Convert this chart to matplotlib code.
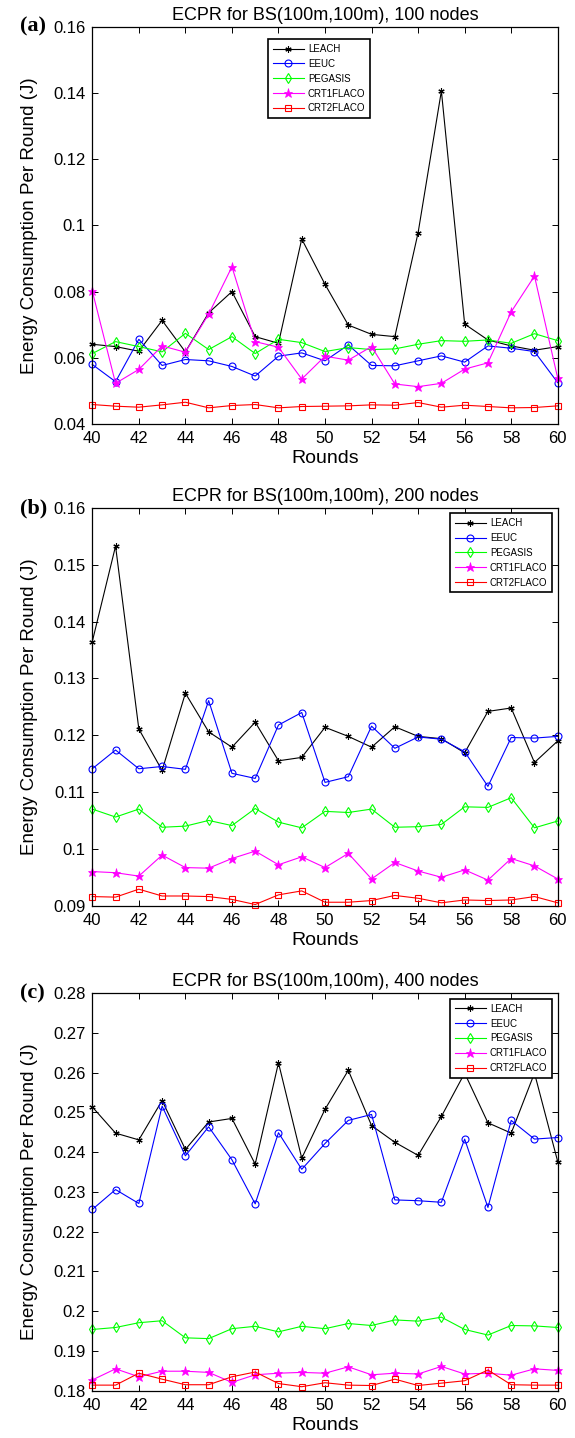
import matplotlib
matplotlib.use('Agg')
import matplotlib.pyplot as plt

plt.rcParams['font.family'] = ['Liberation Sans', 'DejaVu Sans']

rounds = [40, 41, 42, 43, 44, 45, 46, 47, 48, 49, 50,
          51, 52, 53, 54, 55, 56, 57, 58, 59, 60]
series_names = ['LEACH', 'EEUC', 'PEGASIS', 'CRT1FLACO', 'CRT2FLACO']

# (a) 100 nodes
leach_100 = [0.0641, 0.0634, 0.0620, 0.0713, 0.0618, 0.0736, 0.0800, 0.0664, 0.0644, 0.0959, 0.0822,
             0.0699, 0.0671, 0.0664, 0.0978, 0.1406, 0.0702, 0.0654, 0.0636, 0.0623, 0.0634]
eeuc_100 = [0.0580, 0.0528, 0.0656, 0.0577, 0.0595, 0.0591, 0.0574, 0.0545, 0.0605, 0.0615, 0.0591,
            0.0639, 0.0577, 0.0576, 0.0591, 0.0606, 0.0587, 0.0636, 0.0629, 0.0619, 0.0525]
pegasis_100 = [0.0613, 0.0649, 0.0634, 0.0618, 0.0674, 0.0625, 0.0664, 0.0613, 0.0656, 0.0646, 0.0619,
               0.0631, 0.0625, 0.0627, 0.0641, 0.0652, 0.0650, 0.0654, 0.0644, 0.0673, 0.0652]
crt1_100 = [0.0802, 0.0523, 0.0565, 0.0636, 0.0617, 0.0732, 0.0875, 0.0649, 0.0632, 0.0536, 0.0605,
            0.0593, 0.0634, 0.0521, 0.0513, 0.0523, 0.0566, 0.0585, 0.0739, 0.0847, 0.0538]
crt2_100 = [0.0459, 0.0454, 0.0451, 0.0458, 0.0466, 0.0449, 0.0456, 0.0459, 0.0449, 0.0453, 0.0454,
            0.0455, 0.0458, 0.0457, 0.0465, 0.0451, 0.0457, 0.0453, 0.0449, 0.0450, 0.0455]

# (b) 200 nodes
leach_200 = [0.1365, 0.1533, 0.1211, 0.1138, 0.1274, 0.1206, 0.1179, 0.1223, 0.1155, 0.1161, 0.1214,
             0.1198, 0.1179, 0.1215, 0.1198, 0.1194, 0.1169, 0.1242, 0.1248, 0.1152, 0.1190]
eeuc_200 = [0.1141, 0.1174, 0.1141, 0.1145, 0.1140, 0.1261, 0.1133, 0.1124, 0.1218, 0.1240, 0.1117,
            0.1127, 0.1216, 0.1177, 0.1197, 0.1193, 0.1171, 0.1110, 0.1196, 0.1195, 0.1198]
pegasis_200 = [0.1070, 0.1056, 0.1070, 0.1038, 0.1040, 0.1050, 0.1041, 0.1071, 0.1047, 0.1037, 0.1066,
               0.1064, 0.1070, 0.1038, 0.1039, 0.1043, 0.1074, 0.1073, 0.1090, 0.1037, 0.1049]
crt1_200 = [0.0960, 0.0958, 0.0952, 0.0989, 0.0967, 0.0966, 0.0983, 0.0996, 0.0972, 0.0986, 0.0967,
            0.0992, 0.0947, 0.0976, 0.0961, 0.0950, 0.0963, 0.0945, 0.0983, 0.0970, 0.0947]
crt2_200 = [0.0916, 0.0915, 0.0929, 0.0917, 0.0917, 0.0916, 0.0911, 0.0902, 0.0919, 0.0926, 0.0906,
            0.0906, 0.0909, 0.0918, 0.0913, 0.0905, 0.0910, 0.0909, 0.0910, 0.0916, 0.0905]

# (c) 400 nodes
leach_400 = [0.2514, 0.2448, 0.2431, 0.2530, 0.2407, 0.2476, 0.2485, 0.2370, 0.2625, 0.2385, 0.2508,
             0.2606, 0.2467, 0.2425, 0.2392, 0.2490, 0.2599, 0.2474, 0.2448, 0.2599, 0.2376]
eeuc_400 = [0.2256, 0.2306, 0.2271, 0.2516, 0.2391, 0.2464, 0.2381, 0.2270, 0.2449, 0.2357, 0.2422,
            0.2480, 0.2495, 0.2280, 0.2278, 0.2274, 0.2433, 0.2261, 0.2480, 0.2433, 0.2437]
pegasis_400 = [0.1954, 0.1959, 0.1971, 0.1976, 0.1933, 0.1931, 0.1956, 0.1962, 0.1948, 0.1962, 0.1956,
               0.1969, 0.1964, 0.1978, 0.1975, 0.1985, 0.1954, 0.1940, 0.1964, 0.1963, 0.1959]
crt1_400 = [0.1827, 0.1855, 0.1835, 0.1849, 0.1849, 0.1846, 0.1821, 0.1840, 0.1844, 0.1846, 0.1844,
            0.1860, 0.1840, 0.1844, 0.1842, 0.1861, 0.1842, 0.1844, 0.1839, 0.1855, 0.1851]
crt2_400 = [0.1814, 0.1814, 0.1844, 0.1829, 0.1815, 0.1815, 0.1835, 0.1847, 0.1818, 0.1810, 0.1820,
            0.1814, 0.1813, 0.1829, 0.1813, 0.1819, 0.1825, 0.1852, 0.1815, 0.1814, 0.1814]

xticks = [40, 42, 44, 46, 48, 50, 52, 54, 56, 58, 60]
yticks_a = [0.04, 0.06, 0.08, 0.1, 0.12, 0.14, 0.16]
ylabels_a = ['0.04', '0.06', '0.08', '0.1', '0.12', '0.14', '0.16']
yticks_b = [0.09, 0.1, 0.11, 0.12, 0.13, 0.14, 0.15, 0.16]
ylabels_b = ['0.09', '0.1', '0.11', '0.12', '0.13', '0.14', '0.15', '0.16']
yticks_c = [0.18, 0.19, 0.2, 0.21, 0.22, 0.23, 0.24, 0.25, 0.26, 0.27, 0.28]
ylabels_c = ['0.18', '0.19', '0.2', '0.21', '0.22', '0.23', '0.24', '0.25', '0.26', '0.27', '0.28']

# marker / colour for each protocol, MATLAB-like
styles = [
    dict(color='k', marker=(6, 2, 0), markersize=4.5, markeredgewidth=0.8),
    dict(color='b', marker='o', markersize=5, markerfacecolor='none', markeredgewidth=0.8),
    dict(color='#00ff00', marker='d', markersize=5, markerfacecolor='none', markeredgewidth=0.8),
    dict(color='#ff00ff', marker='*', markersize=6.5, markeredgewidth=0.5),
    dict(color='r', marker='s', markersize=4, markerfacecolor='none', markeredgewidth=0.8),
]

panels = [
    ('(a)', 'ECPR for BS(100m,100m), 100 nodes',
     [leach_100, eeuc_100, pegasis_100, crt1_100, crt2_100],
     yticks_a, ylabels_a, [0.9814, 0.7051], ('upper left', (0.3775, 0.969))),
    ('(b)', 'ECPR for BS(100m,100m), 200 nodes',
     [leach_200, eeuc_200, pegasis_200, crt1_200, crt2_200],
     yticks_b, ylabels_b, [0.6467, 0.3702], ('upper right', (0.988, 0.987))),
    ('(c)', 'ECPR for BS(100m,100m), 400 nodes',
     [leach_400, eeuc_400, pegasis_400, crt1_400, crt2_400],
     yticks_c, ylabels_c, [0.3093, 0.0329], ('upper right', (0.988, 0.986))),
]

fig = plt.figure(figsize=(5.75, 14.38), dpi=100)

for tag, title, data, yt, yl, (top, bottom), (loc, anchor) in panels:
    ax = fig.add_axes([0.1605, bottom, 0.8095, top - bottom])
    for name, vals, st in zip(series_names, data, styles):
        ax.plot(rounds, vals, linewidth=0.8, label=name, clip_on=False, **st)
    ax.set_xlim(40, 60)
    ax.set_ylim(yt[0], yt[-1])
    ax.set_xticks(xticks)
    ax.set_yticks(yt)
    ax.set_yticklabels(yl)
    ax.tick_params(direction='in', top=True, right=True, length=4, width=0.7,
                   labelsize=12, pad=5)
    for sp in ax.spines.values():
        sp.set_linewidth(0.9)
    ax.set_title(title, fontsize=13, pad=5)
    ax.set_xlabel('Rounds', fontsize=14, labelpad=3)
    ax.set_ylabel('Energy Consumption Per Round (J)', fontsize=13.5, labelpad=11)
    leg = ax.legend(loc=loc, bbox_to_anchor=anchor, fontsize=7, frameon=True,
                    fancybox=False, edgecolor='k', framealpha=1,
                    handlelength=3.2, labelspacing=0.5, borderpad=0.5,
                    handletextpad=0.4, borderaxespad=0)
    leg.get_frame().set_linewidth(1.2)
    ax.text(-0.155, 1.0, tag, transform=ax.transAxes, fontsize=16,
            fontweight='bold', family='Liberation Serif', va='center', ha='left')

fig.savefig('out.png', dpi=100)
